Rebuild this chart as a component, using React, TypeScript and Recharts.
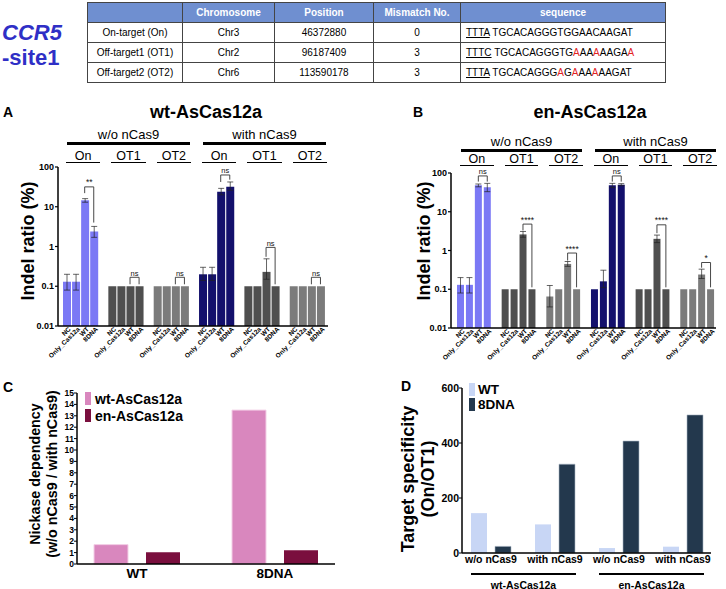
import React from 'react';
import { BarChart, Bar, XAxis, YAxis, Cell, ErrorBar, ReferenceLine, Legend } from 'recharts';

const FONT = '"Liberation Sans", Arial, Helvetica, sans-serif';

/* ---------------- table ---------------- */
const tableHeaders = ['', 'Chromosome', 'Position', 'Mismatch No.', 'sequence'];
const targetNames = ['On-target (On)', 'Off-target1 (OT1)', 'Off-target2 (OT2)'];
const chromosomes = ['Chr3', 'Chr2', 'Chr6'];
const genomicPositions = ['46372880', '96187409', '113590178'];
const mismatchCounts = ['0', '3', '3'];
const pamSequences = ['TTTA', 'TTTC', 'TTTA'];
const protospacers = ['TGCACAGGGTGGAACAAGAT', 'TGCACAGGGTGAAAAAAGAA', 'TGCACAGGGAGAAAAAAGAT'];
const mismatchIndices = [[], [11, 14, 19], [9, 11, 14]];

/* ---------------- panels A / B ---------------- */
const groupNames = ['On', 'OT1', 'OT2', 'On', 'OT1', 'OT2'];
const conditionNames = ['w/o nCas9', 'with nCas9'];
const sampleNames = ['NC', 'Only_Cas12a', 'WT', '8DNA'];
const indelTicks = [0.01, 0.1, 1, 10, 100];

const wtIndel = [
  [0.13, 0.13, 14.5, 2.4],
  [0.1, 0.1, 0.1, 0.1],
  [0.1, 0.1, 0.1, 0.1],
  [0.2, 0.2, 24, 32],
  [0.1, 0.1, 0.23, 0.1],
  [0.1, 0.1, 0.1, 0.1],
];
const wtErrLow = [
  [0.05, 0.05, 1.5, 0.7],
  [0, 0, 0, 0],
  [0, 0, 0, 0],
  [0.06, 0.06, 4, 6],
  [0, 0, 0.08, 0],
  [0, 0, 0, 0],
];
const wtErrHigh = [
  [0.07, 0.07, 1.5, 0.8],
  [0, 0, 0, 0],
  [0, 0, 0, 0],
  [0.1, 0.1, 5, 10],
  [0, 0, 0.26, 0],
  [0, 0, 0, 0],
];
const wtSigLabels = ['**', 'ns', 'ns', 'ns', 'ns', 'ns'];
const wtSigTop = [31.6, 0.168, 0.168, 63, 0.95, 0.168];
const wtSigLeftEnd = [22, 0.112, 0.112, 42, 0.55, 0.112];
const wtSigRightEnd = [4, 0.112, 0.112, 48, 0.112, 0.112];

const enIndel = [
  [0.13, 0.13, 48, 43],
  [0.1, 0.1, 2.6, 0.1],
  [0.065, 0.1, 0.45, 0.1],
  [0.1, 0.16, 48, 50],
  [0.1, 0.1, 2.0, 0.1],
  [0.1, 0.1, 0.24, 0.1],
];
const enErrLow = [
  [0.05, 0.05, 4, 10],
  [0, 0, 0.4, 0],
  [0.03, 0, 0.06, 0],
  [0, 0.05, 6, 3],
  [0, 0, 0.4, 0],
  [0, 0, 0.05, 0],
];
const enErrHigh = [
  [0.07, 0.07, 4, 11],
  [0, 0, 0.5, 0],
  [0.06, 0, 0.07, 0],
  [0, 0.15, 6, 3],
  [0, 0, 0.5, 0],
  [0, 0, 0.09, 0],
];
const enSigLabels = ['ns', '****', '****', 'ns', '****', '*'];
const enSigTop = [84, 4.8, 0.86, 84, 4.6, 0.49];
const enSigLeftEnd = [60, 3.3, 0.55, 60, 2.8, 0.36];
const enSigRightEnd = [60, 0.112, 0.112, 60, 0.112, 0.112];

/* ---------------- panel C ---------------- */
const nickaseVariants = ['WT', '8DNA'];
const nickaseSeriesNames = ['wt-AsCas12a', 'en-AsCas12a'];
const nickaseWt = [1.7, 13.5];
const nickaseEn = [1.02, 1.2];
const nickaseTicks = [0, 1, 2, 3, 4, 5, 6, 7, 8, 9, 10, 11, 12, 13, 14, 15];

/* ---------------- panel D ---------------- */
const specConditions = ['w/o nCas9', 'with nCas9', 'w/o nCas9', 'with nCas9'];
const specEnzymes = ['wt-AsCas12a', 'en-AsCas12a'];
const specSeriesNames = ['WT', '8DNA'];
const specWT = [145, 104, 18, 23];
const spec8DNA = [24, 323, 407, 502];
const specTicks = [0, 200, 400, 600];

/* ---------------- styles ---------------- */
const groupColors = ['#7b79f5', '#4f4f4f', '#7b7b7b', '#13106c', '#4f4f4f', '#7b7b7b'];

type Geo = {
  left: number; top: number; width: number; height: number;
  margin: { top: number; right: number; bottom: number; left: number };
  yAxisWidth: number; xAxisHeight: number; padL: number; padR: number; barSize: number;
  title: string; titleX: number; titleY: number; letter: string; letterX: number;
  condTextY: number; condLineY: number; grpTextY: number; grpLineY: number;
  yLabelX: number; yLabelY: number;
};

const geoA: Geo = {
  left: 0, top: 150, width: 340, height: 215,
  margin: { top: 17, right: 12, bottom: 4, left: 28 },
  yAxisWidth: 30, xAxisHeight: 35, padL: 4, padR: 3, barSize: 8,
  title: 'wt-AsCas12a', titleX: 206, titleY: 112, letter: 'A', letterX: 8,
  condTextY: 135, condLineY: 143, grpTextY: 156, grpLineY: 162.5,
  yLabelX: 28, yLabelY: 241,
};
const geoB: Geo = {
  left: 363, top: 155, width: 363, height: 215,
  margin: { top: 18, right: 10, bottom: 4, left: 58 },
  yAxisWidth: 30, xAxisHeight: 38, padL: 5, padR: 1, barSize: 7,
  title: 'en-AsCas12a', titleX: 590, titleY: 112, letter: 'B', letterX: 418,
  condTextY: 142, condLineY: 150, grpTextY: 159, grpLineY: 165.5,
  yLabelX: 424, yLabelY: 241,
};

function Txt(props: { x: number; y: number; size: number; bold?: boolean; italic?: boolean; rotate?: number; color?: string; lineHeight?: number; children: React.ReactNode }) {
  const { x, y, size, bold, italic, rotate, color, lineHeight, children } = props;
  return (
    <div style={{
      position: 'absolute', left: x, top: y,
      transform: `translate(-50%,-50%)${rotate ? ` rotate(${rotate}deg)` : ''}`,
      fontSize: size, fontWeight: bold ? 700 : 400, fontStyle: italic ? 'italic' : 'normal',
      color: color || '#000', whiteSpace: 'nowrap', textAlign: 'center',
      lineHeight: lineHeight ? `${lineHeight}px` : 1.15,
    }}>{children}</div>
  );
}

function HLine(props: { x1: number; x2: number; y: number; t: number }) {
  return <div style={{ position: 'absolute', left: props.x1, top: props.y - props.t / 2, width: props.x2 - props.x1, height: props.t, background: '#000' }} />;
}

function SiteTable() {
  const cellBase: React.CSSProperties = { border: '1px solid #444', padding: 0, height: 19, textAlign: 'center', verticalAlign: 'middle', overflow: 'hidden', whiteSpace: 'nowrap' };
  const widths = [95, 92, 99, 87, 205];
  return (
    <table style={{ position: 'absolute', left: 87, top: 2, width: 578, borderCollapse: 'collapse', tableLayout: 'fixed', fontSize: 10, fontFamily: FONT }}>
      <colgroup>{widths.map((w, i) => <col key={i} style={{ width: w }} />)}</colgroup>
      <thead>
        <tr>
          {tableHeaders.map((h, i) => (
            <th key={i} style={{ ...cellBase, background: '#6f8fd0', color: '#fff', fontWeight: 700, borderLeft: i > 0 ? '1px solid #e8eefa' : '1px solid #444' }}>{h}</th>
          ))}
        </tr>
      </thead>
      <tbody>
        {targetNames.map((name, r) => (
          <tr key={r}>
            <td style={cellBase}>{name}</td>
            <td style={cellBase}>{chromosomes[r]}</td>
            <td style={cellBase}>{genomicPositions[r]}</td>
            <td style={cellBase}>{mismatchCounts[r]}</td>
            <td style={{ ...cellBase, textAlign: 'left', paddingLeft: 5 }}>
              <span style={{ textDecoration: 'underline' }}>{pamSequences[r]}</span>{' '}
              {protospacers[r].split('').map((c, i) => (
                <span key={i} style={{ color: mismatchIndices[r].includes(i) ? '#e3231f' : '#000' }}>{c}</span>
              ))}
            </td>
          </tr>
        ))}
      </tbody>
    </table>
  );
}

function buildIndelData(values: number[][], lo: number[][], hi: number[][]) {
  const rows: any[] = [];
  values.forEach((grp, g) => {
    grp.forEach((v, i) => {
      const l = lo[g][i];
      const h = hi[g][i];
      rows.push({ id: `g${g}s${i}`, label: sampleNames[i], value: v, err: l || h ? [l, h] : undefined, color: groupColors[g] });
    });
    if (g < values.length - 1) rows.push({ id: `gap${g}`, label: '', value: null, err: undefined, color: 'none' });
  });
  return rows;
}

const rotatedTick = (labels: Record<string, string>) => (props: any) => {
  const { x, y, payload } = props;
  const text = labels[payload.value];
  if (!text) return <g />;
  return (
    <g transform={`translate(${x + 3},${y + 2})`}>
      <text x={0} y={0} dy="0.35em" textAnchor="end" transform="rotate(-45)" fontSize={6.5} fontWeight={700} fill="#000">{text}</text>
    </g>
  );
};

const sigLabel = (text: string) => (p: any) => {
  const vb = p.viewBox || {};
  return (
    <text x={(vb.x || 0) + (vb.width || 0) / 2} y={(vb.y || 0) - 1.5} textAnchor="middle"
      fontSize={text === 'ns' ? 7.5 : 8.5} fill="#111" stroke="none">{text}</text>
  );
};

function IndelPanel(props: {
  geo: Geo; values: number[][]; errLow: number[][]; errHigh: number[][];
  sigLabels: string[]; sigTop: number[]; sigLeftEnd: number[]; sigRightEnd: number[];
}) {
  const { geo, values, errLow, errHigh, sigLabels, sigTop, sigLeftEnd, sigRightEnd } = props;
  const data = buildIndelData(values, errLow, errHigh);
  const labelMap: Record<string, string> = {};
  data.forEach((d) => { labelMap[d.id] = d.label; });
  const plotLeft = geo.left + geo.margin.left + geo.yAxisWidth;
  const plotRight = geo.left + geo.width - geo.margin.right;
  const rangeStart = plotLeft + geo.padL;
  const slot = (plotRight - geo.padR - rangeStart) / data.length;
  const gStart = (g: number) => rangeStart + g * 5 * slot;
  const gEnd = (g: number) => rangeStart + (g * 5 + 4) * slot;

  const brackets: React.ReactNode[] = [];
  values.forEach((_, g) => {
    const a = `g${g}s2`;
    const b = `g${g}s3`;
    const top = sigTop[g];
    brackets.push(
      <ReferenceLine key={`h${g}`} segment={[{ x: a, y: top }, { x: b, y: top }]} stroke="#333" strokeWidth={0.9}
        label={sigLabel(sigLabels[g])} />,
      <ReferenceLine key={`l${g}`} segment={[{ x: a, y: top }, { x: a, y: sigLeftEnd[g] }]} stroke="#333" strokeWidth={0.9} />,
      <ReferenceLine key={`r${g}`} segment={[{ x: b, y: top }, { x: b, y: sigRightEnd[g] }]} stroke="#333" strokeWidth={0.9} />,
    );
  });

  return (
    <>
      <div style={{ position: 'absolute', left: geo.left, top: geo.top }}>
        <BarChart width={geo.width} height={geo.height} data={data} margin={geo.margin} barCategoryGap={0}>
          <XAxis dataKey="id" type="category" height={geo.xAxisHeight} interval={0} tickLine={false} tickSize={0} tickMargin={0}
            padding={{ left: geo.padL, right: geo.padR }} axisLine={{ stroke: '#000', strokeWidth: 1.5 }} tick={rotatedTick(labelMap)} />
          <YAxis type="number" scale="log" domain={[0.01, 100]} ticks={indelTicks} allowDataOverflow width={geo.yAxisWidth}
            tickFormatter={(v: number) => String(v)} tickSize={3} tickMargin={1} interval={0}
            axisLine={{ stroke: '#000', strokeWidth: 1.5 }} tickLine={{ stroke: '#000', strokeWidth: 1.2 }}
            tick={{ fontSize: 9, fontWeight: 700, fill: '#000' }} />
          <Bar dataKey="value" barSize={geo.barSize} isAnimationActive={false}>
            {data.map((d) => <Cell key={d.id} fill={d.color} />)}
            <ErrorBar dataKey="err" direction="y" width={3} stroke="#222" strokeWidth={0.7} />
          </Bar>
          {brackets}
        </BarChart>
      </div>
      <Txt x={geo.letterX} y={geo.titleY} size={14} bold>{geo.letter}</Txt>
      <Txt x={geo.titleX} y={geo.titleY} size={18} bold>{geo.title}</Txt>
      {conditionNames.map((c, k) => {
        const x1 = gStart(k * 3) + 5;
        const x2 = gEnd(k * 3 + 2) + 1;
        return (
          <React.Fragment key={c}>
            <Txt x={(x1 + x2) / 2} y={geo.condTextY} size={13}>{c}</Txt>
            <HLine x1={x1} x2={x2} y={geo.condLineY} t={3} />
          </React.Fragment>
        );
      })}
      {groupNames.map((n, g) => {
        const x1 = gStart(g) + 4;
        const x2 = gEnd(g) + 2;
        return (
          <React.Fragment key={g}>
            <Txt x={(x1 + x2) / 2} y={geo.grpTextY} size={12.5}>{n}</Txt>
            <HLine x1={x1} x2={x2} y={geo.grpLineY} t={1.2} />
          </React.Fragment>
        );
      })}
      <Txt x={geo.yLabelX} y={geo.yLabelY} size={18} bold rotate={-90}>Indel ratio (%)</Txt>
    </>
  );
}

const legendContent = (order: string[], fontSize: number, rowH: number, swW: number, swH: number, gap: number) => (props: any) => {
  const items = [...(props.payload || [])].sort((a: any, b: any) => order.indexOf(a.value) - order.indexOf(b.value));
  return (
    <div style={{ fontFamily: FONT }}>
      {items.map((p: any) => (
        <div key={p.value} style={{ display: 'flex', alignItems: 'center', height: rowH }}>
          <span style={{ display: 'inline-block', width: swW, height: swH, background: p.color, marginRight: gap }} />
          <span style={{ fontSize, fontWeight: 700, color: '#000', lineHeight: 1 }}>{p.value}</span>
        </div>
      ))}
    </div>
  );
};

function NickasePanel() {
  const data = nickaseVariants.map((v, i) => ({ variant: v, wt: nickaseWt[i], en: nickaseEn[i] }));
  return (
    <>
      <div style={{ position: 'absolute', left: 0, top: 380 }}>
        <BarChart width={363} height={209} data={data} margin={{ top: 13, right: 28, bottom: 3, left: 52 }} barGap={18}>
          <XAxis dataKey="variant" height={22} tickLine={false} tickSize={0} tickMargin={4} padding={{ left: -9, right: -9 }}
            axisLine={{ stroke: '#000', strokeWidth: 1.5 }} tick={{ fontSize: 13.5, fontWeight: 700, fill: '#000' }} />
          <YAxis type="number" domain={[0, 15]} ticks={nickaseTicks} interval={0} width={25} tickSize={3} tickMargin={0}
            axisLine={{ stroke: '#000', strokeWidth: 1.5 }} tickLine={{ stroke: '#000', strokeWidth: 1 }}
            tick={{ fontSize: 8.5, fontWeight: 700, fill: '#000' }} />
          <Legend layout="vertical" align="center" verticalAlign="middle"
            wrapperStyle={{ left: 85, top: 10, width: 'auto', height: 'auto' }}
            content={legendContent(nickaseSeriesNames, 14, 17, 6, 13, 4)} />
          <Bar dataKey="wt" name={nickaseSeriesNames[0]} fill="#d987be" stroke="#f3cfe6" strokeWidth={1} barSize={34} isAnimationActive={false} />
          <Bar dataKey="en" name={nickaseSeriesNames[1]} fill="#7a0f3e" barSize={34} isAnimationActive={false} />
        </BarChart>
      </div>
      <Txt x={8} y={387} size={14} bold>C</Txt>
      <Txt x={43.5} y={474} size={14.3} bold rotate={-90} lineHeight={17}>Nickase dependency<br />(w/o nCas9 / with nCas9)</Txt>
    </>
  );
}

function SpecificityPanel() {
  const data = specConditions.map((c, i) => ({ id: `d${i}`, cond: c, wt: specWT[i], dna: spec8DNA[i] }));
  const condMap: Record<string, string> = {};
  data.forEach((d) => { condMap[d.id] = d.cond; });
  const plotLeft = 462;
  const plotRight = 711;
  const padL = -3;
  const padR = -4;
  const band = (plotRight - padR - (plotLeft + padL)) / data.length;
  const center = (i: number) => plotLeft + padL + (i + 0.5) * band;
  return (
    <>
      <div style={{ position: 'absolute', left: 363, top: 375 }}>
        <BarChart width={363} height={214} data={data} margin={{ top: 13, right: 15, bottom: 6, left: 69 }} barGap={8}>
          <XAxis dataKey="id" height={30} tickLine={false} tickSize={0} tickMargin={3} padding={{ left: padL, right: padR }}
            tickFormatter={(v: string) => condMap[v]} interval={0}
            axisLine={{ stroke: '#000', strokeWidth: 1.5 }} tick={{ fontSize: 10.5, fontWeight: 700, fill: '#000' }} />
          <YAxis type="number" domain={[0, 600]} ticks={specTicks} interval={0} width={30} tickSize={3} tickMargin={0}
            axisLine={{ stroke: '#000', strokeWidth: 1.5 }} tickLine={{ stroke: '#000', strokeWidth: 1 }}
            tick={{ fontSize: 10.5, fontWeight: 700, fill: '#000' }} />
          <Legend layout="vertical" align="center" verticalAlign="middle"
            wrapperStyle={{ left: 106, top: 7, width: 'auto', height: 'auto' }}
            content={legendContent(specSeriesNames, 13.5, 15, 6, 12.5, 3)} />
          <Bar dataKey="wt" name={specSeriesNames[0]} fill="#c8d6f5" barSize={16} isAnimationActive={false} />
          <Bar dataKey="dna" name={specSeriesNames[1]} fill="#23384d" stroke="#a8b6c4" strokeWidth={0.6} barSize={16} isAnimationActive={false} />
        </BarChart>
      </div>
      <Txt x={406} y={386} size={14} bold>D</Txt>
      <Txt x={418} y={479} size={18} bold rotate={-90} lineHeight={20}>Target specificity<br />(On/OT1)</Txt>
      {specEnzymes.map((e, k) => {
        const x1 = center(k * 2) - 20;
        const x2 = center(k * 2 + 1) + 21;
        return (
          <React.Fragment key={e}>
            <HLine x1={x1} x2={x2} y={573.5} t={2} />
            <Txt x={(x1 + x2) / 2} y={584.5} size={10.5} bold>{e}</Txt>
          </React.Fragment>
        );
      })}
    </>
  );
}

export default function App() {
  return (
    <div style={{ position: 'absolute', left: 0, top: 0, width: 726, height: 589, background: '#fff', fontFamily: FONT, color: '#000', overflow: 'hidden' }}>
      <div style={{ position: 'absolute', left: 2, top: 20, fontSize: 22, fontWeight: 700, color: '#2f2fc6', lineHeight: '25px' }}>
        <div style={{ fontStyle: 'italic' }}>CCR5</div>
        <div>-site1</div>
      </div>
      <SiteTable />
      <IndelPanel geo={geoA} values={wtIndel} errLow={wtErrLow} errHigh={wtErrHigh}
        sigLabels={wtSigLabels} sigTop={wtSigTop} sigLeftEnd={wtSigLeftEnd} sigRightEnd={wtSigRightEnd} />
      <IndelPanel geo={geoB} values={enIndel} errLow={enErrLow} errHigh={enErrHigh}
        sigLabels={enSigLabels} sigTop={enSigTop} sigLeftEnd={enSigLeftEnd} sigRightEnd={enSigRightEnd} />
      <NickasePanel />
      <SpecificityPanel />
    </div>
  );
}
